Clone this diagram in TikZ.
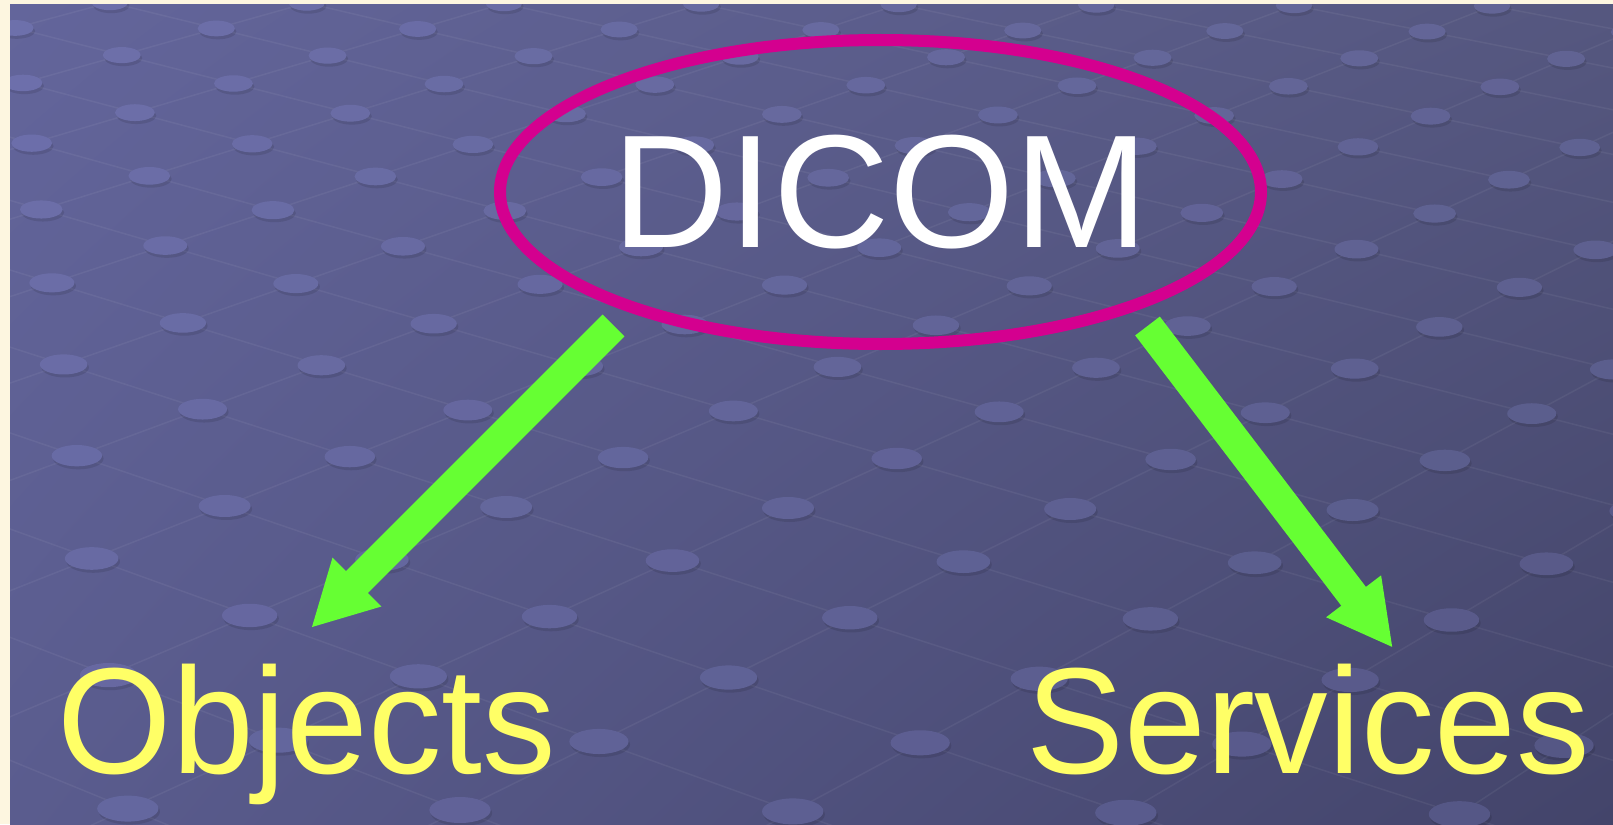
\documentclass[tikz,border=0pt]{standalone}
\usepackage{fontspec}
\usepackage{graphicx}
\setmainfont{Liberation Sans}
\usetikzlibrary{arrows.meta,shapes.geometric,shadings}
\definecolor{cream}{HTML}{FDF6E0}
\definecolor{bgTL}{HTML}{63659B}
\definecolor{bgTR}{HTML}{55577F}
\definecolor{bgBL}{HTML}{5A5C8E}
\definecolor{bgBR}{HTML}{43446A}
\definecolor{dmagenta}{HTML}{D4008F}
\definecolor{agreen}{HTML}{66FF33}
\definecolor{tyellow}{HTML}{FFFF66}
\definecolor{dottint}{HTML}{A4A8FF}
\newcommand\gridpt[2]{%
  \pgfmathsetmacro\gax{112*(#1)+170*(#2)}%
  \pgfmathsetmacro\gay{-51*(#1)+52*(#2)}%
  \pgfmathsetmacro\gw{1-0.0006*\gay}%
  \pgfmathsetmacro\gx{788+\gax/\gw}%
  \pgfmathsetmacro\gy{508+\gay/\gw}%
}
\tikzset{
  gridline/.style={white,opacity=0.055,line width=1.5pt},
  dotlight/.style={fill=dottint,opacity=0.17},
  dotshade/.style={fill=black,opacity=0.10},
  arr/.style={draw=agreen,line width=31pt,-{Triangle[length=65pt,width=64pt]}},
  lbl/.style={text=tyellow,inner sep=0pt,anchor=base,font=\fontsize{151}{180}\selectfont},
}
\begin{document}
\begin{tikzpicture}[x=1pt,y=-1pt]
\useasboundingbox (0,0) rectangle (1613,824);
\fill[cream] (0,0) rectangle (1613,824);
\shade[upper left=bgTL, upper right=bgTR, lower left=bgBL, lower right=bgBR] (10,5) rectangle (1613,824);
\begin{scope}
\clip (10,5) rectangle (1613,824);
% grid lines
\foreach \u in {-7,...,14}{
  \foreach \v in {-11,...,6}{
    \gridpt{\u}{\v}
    \pgfmathtruncatemacro\ok{(\gay>-800)&&(\gay<330)&&(\gax>-1250)&&(\gax<1300)}
    \ifnum\ok=1
      \let\xa\gx \let\ya\gy
      \gridpt{\u+1}{\v}
      \draw[gridline] (\xa,\ya) -- (\gx,\gy);
      \gridpt{\u}{\v+1}
      \draw[gridline] (\xa,\ya) -- (\gx,\gy);
    \fi
  }
}
% dots
\foreach \u in {-7,...,14}{
  \foreach \v in {-11,...,6}{
    \gridpt{\u}{\v}
    \pgfmathtruncatemacro\ok{(\gay>-800)&&(\gay<330)&&(\gax>-1250)&&(\gax<1300)}
    \ifnum\ok=1
      \pgfmathsetmacro\rx{26/\gw}
      \pgfmathsetmacro\ry{11/\gw}
      \pgfmathtruncatemacro\fx{max(0,min(100,(\gx-10)/16.03))}
      \pgfmathtruncatemacro\fy{max(0,min(100,(\gy-5)/8.19))}
      \colorlet{ctop}{bgTR!\fx!bgTL}
      \colorlet{cbot}{bgBR!\fx!bgBL}
      \colorlet{cpt}{cbot!\fy!ctop}
      \fill[dotshade] (\gx+1.5,\gy+3) ellipse [x radius=\rx, y radius=\ry];
      \fill[cpt] (\gx,\gy) ellipse [x radius=\rx, y radius=\ry];
      \fill[dotlight] (\gx,\gy) ellipse [x radius=\rx, y radius=\ry];
    \fi
  }
}
\end{scope}
% main content
\node (dicom) [ellipse, draw=dmagenta, line width=12pt, minimum width=761pt, minimum height=304pt, inner sep=0pt, text=white, font=\fontsize{161}{190}\selectfont] at (880.5,192) {DICOM};
\node (objects) [lbl] at (307,773) {\scalebox{0.973}[1]{Objects}};
\node (services) [lbl] at (1308,773) {\scalebox{0.973}[1]{Services}};
\coordinate (l0) at (613.5,325.5);
\coordinate (l1) at (311,628);
\coordinate (r0) at (1147.5,326);
\coordinate (r1) at (1393,648);
\draw[arr] (l0) -- (l1);
\draw[arr] (r0) -- (r1);
\end{tikzpicture}
\end{document}
